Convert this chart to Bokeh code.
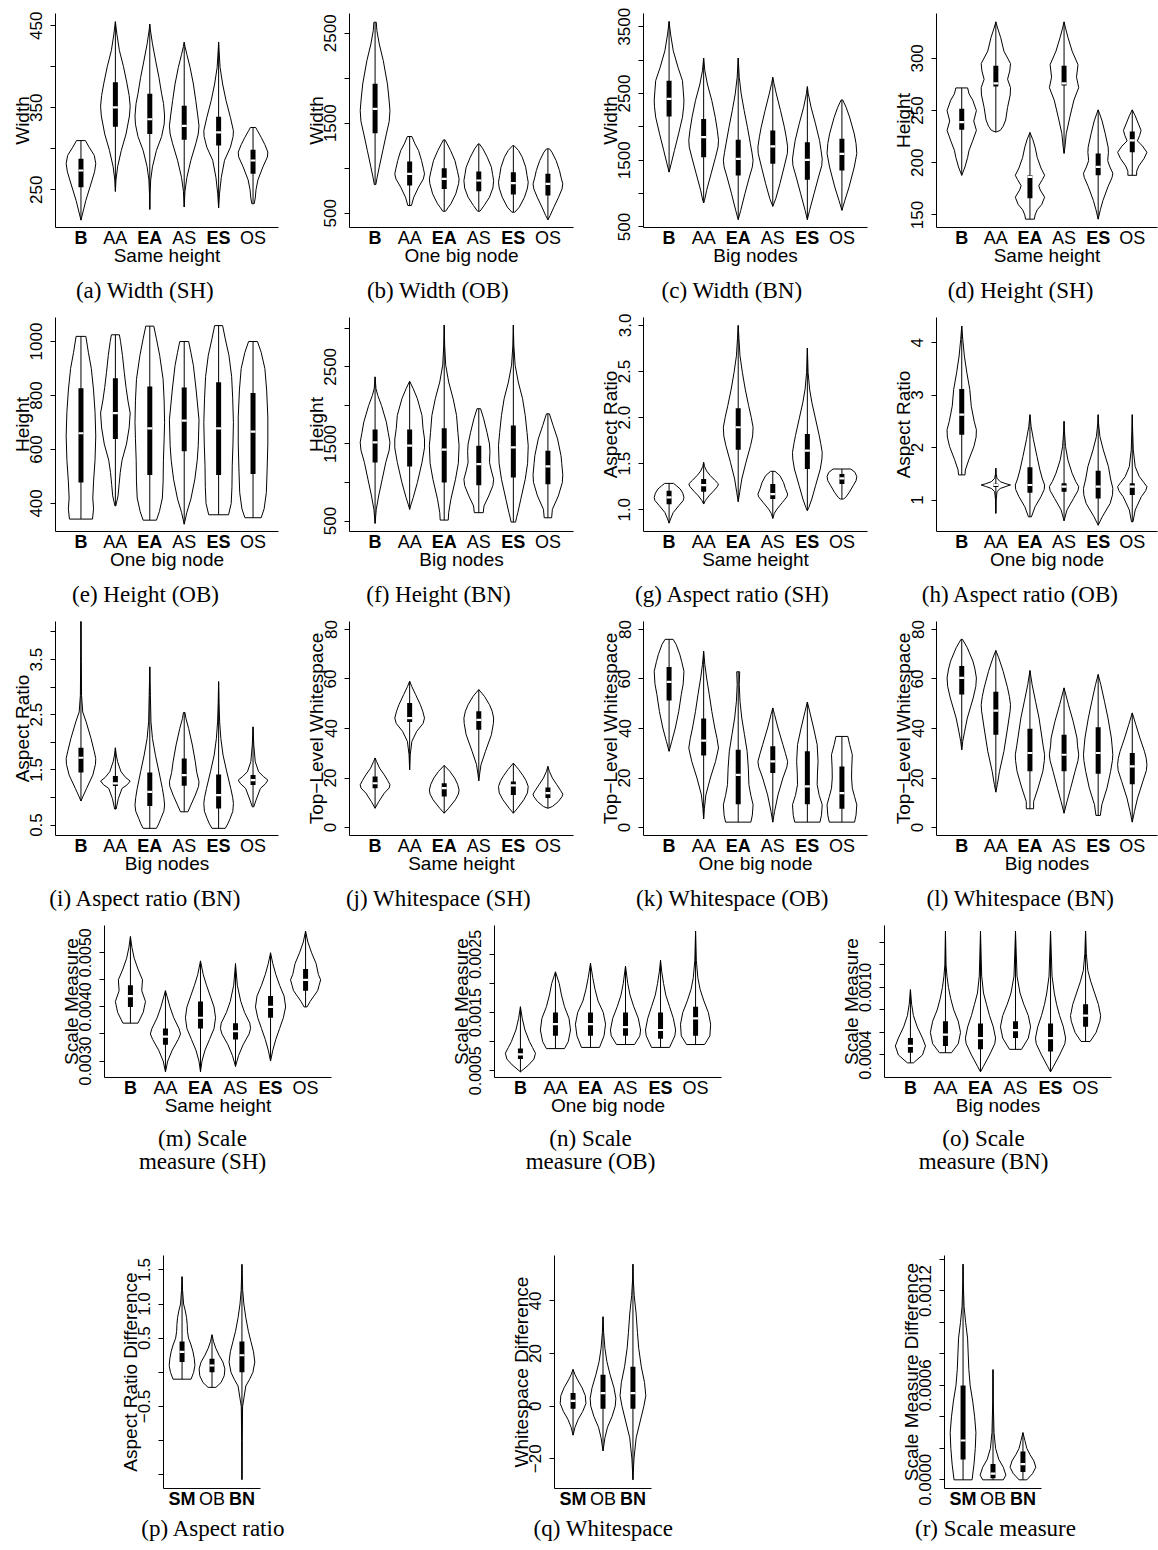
from bokeh.plotting import figure
from bokeh.layouts import column, row
from bokeh.models import Range1d, FixedTicker, Title, LinearAxis
from bokeh.embed import file_html
from bokeh.resources import INLINE

CATS6 = ["B", "AA", "EA", "AS", "ES", "OS"]
CATS3 = ["SM", "OB", "BN"]

# ---------- (a) Width (SH) ----------
A_SHAPES = [
    [(213, 0), (237, 0.33), (257, 0.67), (272, 0.92), (282, 1.0), (292, 0.9), (302, 0.55), (310, 0.3)],
    [(248, 0), (262, 0.04), (278, 0.15), (298, 0.4), (318, 0.72), (340, 0.95), (352, 1.0), (365, 0.93), (380, 0.78), (400, 0.55), (420, 0.27), (440, 0.1), (455, 0)],
    [(226, 0), (245, 0.02), (262, 0.06), (278, 0.18), (298, 0.45), (315, 0.8), (330, 0.97), (340, 1.0), (355, 0.93), (367, 0.8), (387, 0.62), (407, 0.4), (428, 0.18), (445, 0.04), (452, 0)],
    [(229, 0), (248, 0.05), (265, 0.18), (286, 0.45), (306, 0.78), (318, 0.95), (328, 1.0), (340, 0.92), (359, 0.78), (379, 0.62), (399, 0.4), (415, 0.18), (425, 0.05), (430, 0)],
    [(228, 0), (245, 0.06), (265, 0.18), (286, 0.4), (302, 0.8), (315, 0.98), (322, 1.0), (338, 0.8), (359, 0.5), (379, 0.27), (399, 0.1), (420, 0.03), (430, 0)],
    [(233, 0.08), (240, 0.15), (250, 0.2), (262, 0.33), (278, 0.67), (290, 0.97), (296, 1.0), (305, 0.8), (314, 0.55), (322, 0.3), (326, 0.18)],
]
A_Q1 = [253, 327, 318, 311, 304, 269.5]
A_MED = [273.5, 350.6, 336, 328, 320, 285.7]
A_Q3 = [288, 381, 367, 352.6, 339, 298.7]
A_YLIM = (204, 465)
A_TICKS = [250, 300, 350, 400, 450]
A_TLAB = ["250", "", "350", "", "450"]

# ---------- (b) Width (OB) ----------
B_SHAPES = [
    [(818, 0.05), (900, 0.14), (1011, 0.28), (1196, 0.52), (1381, 0.76), (1520, 0.95), (1640, 1.0), (1780, 0.93), (1937, 0.83), (2196, 0.55), (2381, 0.28), (2530, 0.12), (2622, 0.08)],
    [(585, 0.12), (678, 0.28), (789, 0.6), (880, 0.92), (937, 1.0), (1000, 0.92), (1085, 0.8), (1196, 0.6), (1270, 0.36), (1352, 0.15)],
    [(522, 0.1), (560, 0.25), (604, 0.45), (715, 0.78), (830, 0.97), (881, 1.0), (960, 0.9), (1085, 0.72), (1196, 0.43), (1270, 0.2), (1315, 0.05)],
    [(522, 0.08), (585, 0.36), (678, 0.72), (780, 0.95), (863, 1.0), (930, 0.93), (1011, 0.85), (1122, 0.57), (1215, 0.28), (1270, 0.04)],
    [(511, 0.1), (567, 0.4), (678, 0.75), (780, 0.95), (844, 1.0), (920, 0.92), (1011, 0.83), (1122, 0.6), (1196, 0.35), (1252, 0.04)],
    [(426, 0), (474, 0.15), (567, 0.4), (678, 0.72), (770, 0.95), (826, 1.0), (900, 0.88), (974, 0.78), (1085, 0.55), (1178, 0.27), (1215, 0.1)],
]
B_Q1 = [1389, 807, 770, 744, 707, 696]
B_MED = [1659, 937, 881, 863, 833, 826]
B_Q3 = [1937, 1074, 1000, 963, 955, 937]
B_YLIM = (341, 2719)
B_TICKS = [500, 1000, 1500, 2000, 2500]
B_TLAB = ["500", "", "1500", "", "2500"]

# ---------- (c) Width (BN) ----------
C_SHAPES = [
    [(1322, 0), (1446, 0.14), (1646, 0.36), (1895, 0.64), (2144, 0.9), (2300, 0.98), (2400, 1.0), (2550, 0.95), (2692, 0.9), (2892, 0.6), (3141, 0.28), (3390, 0.1), (3579, 0)],
    [(859, 0), (899, 0.06), (1048, 0.2), (1297, 0.5), (1546, 0.8), (1700, 0.97), (1800, 1.0), (1950, 0.92), (2144, 0.78), (2393, 0.55), (2642, 0.25), (2841, 0.08), (3031, 0)],
    [(610, 0), (749, 0.17), (998, 0.45), (1247, 0.75), (1400, 0.95), (1500, 1.0), (1620, 0.92), (1746, 0.82), (1995, 0.62), (2244, 0.4), (2493, 0.2), (2742, 0.07), (3031, 0)],
    [(809, 0), (924, 0.2), (1148, 0.48), (1397, 0.76), (1600, 0.98), (1700, 1.0), (1850, 0.9), (1995, 0.78), (2244, 0.52), (2493, 0.24), (2650, 0.08), (2742, 0)],
    [(610, 0), (749, 0.15), (998, 0.45), (1247, 0.75), (1420, 0.97), (1520, 1.0), (1650, 0.92), (1795, 0.82), (2044, 0.55), (2294, 0.25), (2500, 0.06), (2603, 0)],
    [(749, 0), (899, 0.2), (1098, 0.48), (1397, 0.83), (1600, 1.0), (1750, 0.95), (1895, 0.83), (2144, 0.52), (2294, 0.28), (2403, 0.05)],
]
C_Q1 = [2154, 1546, 1272, 1447, 1207, 1347]
C_MED = [2418, 1845, 1521, 1706, 1506, 1596]
C_Q3 = [2692, 2119, 1805, 1945, 1770, 1820]
C_YLIM = (492, 3698)
C_TICKS = [500, 1000, 1500, 2000, 2500, 3000, 3500]
C_TLAB = ["500", "", "1500", "", "2500", "", "3500"]

# ---------- (d) Height (SH) ----------
D_SHAPES = [
    [(188, 0), (196, 0.22), (205, 0.4), (212, 0.5), (220, 0.72), (231, 1.0), (240, 0.82), (250, 1.0), (260, 0.75), (266, 0.5), (271.7, 0.4)],
    [(229.4, 0), (231, 0.3), (235, 0.5), (241, 0.67), (253, 0.8), (265, 0.98), (272, 1.0), (280, 0.8), (288, 0.95), (295, 1.0), (307, 0.55), (320, 0.33), (329, 0.12), (335, 0)],
    [(146, 0.3), (150, 0.35), (155, 0.5), (160, 0.8), (167, 1.0), (174, 0.7), (178, 0.6), (184, 0.85), (188, 1.0), (195, 0.75), (205, 0.5), (215, 0.35), (222, 0.2), (229, 0)],
    [(209, 0), (215, 0.06), (228, 0.15), (244, 0.4), (260, 0.67), (272, 1.0), (282, 0.85), (294, 0.95), (307, 0.55), (320, 0.27), (329, 0.1), (335, 0)],
    [(146, 0), (155, 0.15), (164, 0.33), (177, 0.67), (186, 0.95), (190, 1.0), (196, 0.8), (202, 0.65), (210, 0.7), (215, 0.68), (228, 0.48), (240, 0.27), (247, 0.1), (250.7, 0)],
    [(188, 0.3), (192, 0.3), (197, 0.45), (204, 0.8), (210, 1.0), (216, 0.7), (221, 0.35), (226, 0.5), (231, 0.6), (238, 0.4), (245, 0.2), (250.7, 0)],
]
D_Q1 = [231.7, 273, 166, 274, 188, 210]
D_MED = [239, 276, 186.5, 276, 196, 221.5]
D_Q3 = [251.7, 293, 188, 293, 208.8, 230]
D_YLIM = (138, 343)
D_TICKS = [150, 200, 250, 300]
D_TLAB = ["150", "200", "250", "300"]

# ---------- (e) Height (OB) ----------
E_SHAPES = [
    [(342, 0.78), (380, 0.85), (420, 0.8), (480, 0.85), (560, 0.95), (650, 1.0), (740, 0.95), (820, 0.85), (900, 0.7), (960, 0.5), (1019, 0.33)],
    [(391, 0.03), (428, 0.18), (470, 0.25), (515, 0.33), (560, 0.45), (620, 0.75), (680, 0.93), (735, 1.0), (780, 0.85), (830, 0.72), (886, 0.6), (948, 0.48), (1000, 0.35), (1025, 0.27)],
    [(338, 0.45), (370, 0.65), (420, 0.85), (480, 0.9), (560, 0.92), (640, 0.97), (700, 1.0), (780, 0.97), (860, 0.9), (948, 0.67), (1010, 0.45), (1057, 0.27)],
    [(323, 0), (367, 0.18), (416, 0.45), (490, 0.72), (560, 0.88), (614, 0.95), (710, 1.0), (824, 0.8), (911, 0.62), (960, 0.45), (1000, 0.3)],
    [(358, 0.67), (400, 0.85), (460, 0.9), (540, 0.92), (620, 0.97), (700, 1.0), (790, 0.95), (870, 0.88), (948, 0.7), (1010, 0.45), (1059, 0.27)],
    [(347, 0.55), (380, 0.75), (440, 0.9), (520, 0.95), (620, 1.0), (720, 1.0), (820, 0.92), (900, 0.8), (960, 0.55), (1000, 0.3)],
]
E_Q1 = [478, 639, 505, 593, 505, 509]
E_MED = [660, 735, 678, 707, 678, 666]
E_Q3 = [827, 864, 833, 830, 849, 809]
E_YLIM = (296, 1089)
E_TICKS = [400, 600, 800, 1000]
E_TLAB = ["400", "600", "800", "1000"]

# ---------- (f) Height (BN) ----------
F_SHAPES = [
    [(470, 0), (652, 0.08), (826, 0.24), (1043, 0.48), (1261, 0.72), (1420, 0.95), (1522, 1.0), (1650, 0.88), (1783, 0.76), (2000, 0.43), (2130, 0.18), (2217, 0.06), (2370, 0)],
    [(652, 0), (720, 0.1), (804, 0.24), (1000, 0.52), (1261, 0.83), (1450, 1.0), (1565, 1.0), (1700, 0.9), (1870, 0.83), (2087, 0.52), (2217, 0.24), (2313, 0)],
    [(513, 0.27), (609, 0.3), (783, 0.45), (1043, 0.76), (1250, 0.95), (1478, 1.0), (1650, 0.92), (1870, 0.83), (2087, 0.6), (2304, 0.3), (2522, 0.1), (2783, 0.03), (3043, 0)],
    [(609, 0.3), (696, 0.35), (826, 0.67), (960, 0.95), (1043, 1.0), (1150, 0.85), (1261, 0.72), (1400, 0.75), (1500, 0.72), (1652, 0.55), (1826, 0.33), (1957, 0.12)],
    [(487, 0.15), (550, 0.22), (609, 0.3), (783, 0.5), (1043, 0.8), (1250, 0.96), (1478, 1.0), (1650, 0.92), (1870, 0.8), (2087, 0.62), (2304, 0.33), (2522, 0.12), (2783, 0.03), (3043, 0)],
    [(543, 0.25), (652, 0.3), (826, 0.7), (1000, 0.97), (1100, 1.0), (1250, 0.93), (1348, 0.88), (1565, 0.65), (1739, 0.35), (1891, 0.1)],
]
F_Q1 = [1261, 1209, 1000, 965, 1065, 978]
F_MED = [1522, 1478, 1426, 1239, 1457, 1209]
F_Q3 = [1687, 1687, 1704, 1478, 1739, 1413]
F_YLIM = (365, 3140)
F_TICKS = [500, 1000, 1500, 2000, 2500, 3000]
F_TLAB = ["500", "", "1500", "", "2500", ""]

# ---------- (g) Aspect ratio (SH) ----------
G_SHAPES = [
    [(0.855, 0), (0.9, 0.1), (0.97, 0.28), (1.043, 0.65), (1.1, 0.95), (1.134, 1.0), (1.18, 0.92), (1.225, 0.75), (1.26, 0.5), (1.286, 0.3)],
    [(1.062, 0), (1.1, 0.12), (1.15, 0.35), (1.2, 0.65), (1.25, 0.92), (1.28, 1.0), (1.32, 0.75), (1.37, 0.45), (1.42, 0.2), (1.47, 0.06), (1.514, 0)],
    [(1.087, 0), (1.19, 0.1), (1.333, 0.24), (1.514, 0.52), (1.696, 0.83), (1.8, 0.97), (1.895, 1.0), (2.0, 0.88), (2.13, 0.7), (2.31, 0.47), (2.49, 0.28), (2.67, 0.12), (2.855, 0.05), (3.0, 0)],
    [(0.906, 0), (0.96, 0.1), (1.007, 0.28), (1.08, 0.65), (1.14, 0.95), (1.17, 1.0), (1.23, 0.85), (1.297, 0.72), (1.37, 0.48), (1.417, 0.15)],
    [(0.99, 0), (1.025, 0.1), (1.116, 0.3), (1.26, 0.55), (1.442, 0.87), (1.55, 0.98), (1.623, 1.0), (1.72, 0.9), (1.804, 0.8), (1.986, 0.55), (2.167, 0.3), (2.31, 0.15), (2.49, 0.05), (2.754, 0)],
    [(1.116, 0.1), (1.134, 0.25), (1.19, 0.5), (1.26, 0.75), (1.315, 0.95), (1.36, 1.0), (1.406, 0.88), (1.442, 0.6)],
]
G_Q1 = [1.06, 1.196, 1.652, 1.116, 1.442, 1.279]
G_MED = [1.134, 1.268, 1.895, 1.17, 1.641, 1.34]
G_Q3 = [1.207, 1.333, 2.10, 1.279, 1.822, 1.388]
G_YLIM = (0.764, 3.086)
G_TICKS = [1.0, 1.5, 2.0, 2.5, 3.0]
G_TLAB = ["1.0", "1.5", "2.0", "2.5", "3.0"]

# ---------- (h) Aspect ratio (OB) ----------
H_SHAPES = [
    [(1.479, 0.22), (1.574, 0.25), (1.766, 0.48), (2.02, 0.83), (2.2, 0.98), (2.34, 1.0), (2.5, 0.85), (2.787, 0.65), (3.106, 0.55), (3.425, 0.35), (3.744, 0.18), (4.063, 0.07), (4.318, 0)],
    [(0.745, 0), (1.0, 0.02), (1.16, 0.08), (1.22, 0.3), (1.26, 0.7), (1.287, 1.0), (1.31, 0.7), (1.35, 0.3), (1.415, 0.08), (1.5, 0.02), (1.606, 0)],
    [(0.68, 0.1), (0.872, 0.35), (1.064, 0.75), (1.2, 0.97), (1.287, 1.0), (1.4, 0.85), (1.574, 0.68), (1.83, 0.48), (2.149, 0.24), (2.4, 0.08), (2.627, 0)],
    [(0.604, 0), (0.81, 0.2), (1.032, 0.65), (1.18, 0.95), (1.255, 1.0), (1.35, 0.8), (1.51, 0.55), (1.766, 0.26), (2.02, 0.1), (2.3, 0.03), (2.5, 0)],
    [(0.52, 0), (0.68, 0.28), (0.936, 0.82), (1.1, 0.98), (1.223, 1.0), (1.4, 0.85), (1.638, 0.7), (1.957, 0.35), (2.21, 0.12), (2.45, 0.03), (2.627, 0)],
    [(0.585, 0.05), (0.81, 0.2), (1.064, 0.62), (1.18, 0.92), (1.255, 1.0), (1.33, 0.8), (1.447, 0.48), (1.638, 0.2), (1.957, 0.07), (2.3, 0.03), (2.627, 0)],
]
H_Q1 = [2.244, 1.25, 1.14, 1.16, 1.03, 1.096]
H_MED = [2.627, 1.287, 1.287, 1.255, 1.255, 1.255]
H_Q3 = [3.119, 1.31, 1.625, 1.32, 1.56, 1.32]
H_YLIM = (0.40, 4.48)
H_TICKS = [1, 2, 3, 4]
H_TLAB = ["1", "2", "3", "4"]

# ---------- (i) Aspect ratio (BN) ----------
I_SHAPES = [
    [(0.935, 0), (1.01, 0.12), (1.164, 0.38), (1.405, 0.8), (1.6, 0.98), (1.707, 1.0), (1.85, 0.88), (2.07, 0.68), (2.37, 0.35), (2.55, 0.12), (2.85, 0.04), (3.46, 0.02), (4.2, 0)],
    [(0.79, 0.05), (0.98, 0.2), (1.164, 0.45), (1.23, 0.8), (1.297, 1.0), (1.36, 0.7), (1.466, 0.38), (1.647, 0.15), (1.77, 0.06), (1.9, 0)],
    [(0.44, 0.45), (0.52, 0.6), (0.62, 0.75), (0.75, 0.95), (0.862, 1.0), (1.0, 0.95), (1.164, 0.85), (1.466, 0.62), (1.767, 0.38), (2.07, 0.18), (2.37, 0.08), (2.85, 0.04), (3.367, 0)],
    [(0.74, 0.25), (0.862, 0.45), (1.043, 0.75), (1.2, 0.97), (1.285, 1.0), (1.45, 0.85), (1.647, 0.75), (1.95, 0.55), (2.25, 0.3), (2.43, 0.12), (2.54, 0.05)],
    [(0.44, 0.45), (0.52, 0.62), (0.62, 0.78), (0.75, 0.96), (0.892, 1.0), (1.0, 0.95), (1.164, 0.82), (1.466, 0.55), (1.767, 0.3), (2.07, 0.15), (2.37, 0.07), (2.7, 0.03), (3.1, 0)],
    [(0.83, 0.05), (0.95, 0.2), (1.164, 0.5), (1.25, 0.85), (1.315, 1.0), (1.38, 0.7), (1.466, 0.38), (1.647, 0.15), (1.95, 0.05), (2.28, 0)],
]
I_Q1 = [1.454, 1.206, 0.844, 1.212, 0.8, 1.224]
I_MED = [1.72, 1.254, 1.1, 1.405, 1.043, 1.315]
I_Q3 = [1.9, 1.387, 1.454, 1.707, 1.417, 1.405]
I_YLIM = (0.31, 4.19)
I_TICKS = [0.5, 1.0, 1.5, 2.0, 2.5, 3.0, 3.5, 4.0]
I_TLAB = ["0.5", "", "1.5", "", "2.5", "", "3.5", ""]

# ---------- (j) Whitespace (SH) ----------
J_SHAPES = [
    [(7.8, 0), (10.5, 0.25), (13.9, 0.62), (16, 0.95), (17.3, 1.0), (19, 0.85), (21.3, 0.62), (24, 0.3), (26.7, 0.1), (28.1, 0)],
    [(23.3, 0), (29.4, 0.04), (34.8, 0.15), (38.9, 0.48), (42, 0.9), (44.2, 1.0), (47, 0.88), (49.6, 0.72), (53.7, 0.4), (57, 0.14), (59.1, 0)],
    [(5.8, 0), (7.8, 0.3), (11.2, 0.75), (13.5, 0.95), (15.2, 1.0), (17.5, 0.9), (20, 0.7), (22.7, 0.38), (25.1, 0)],
    [(18.9, 0), (21.3, 0.05), (25.4, 0.15), (30.8, 0.45), (37.5, 0.85), (42, 0.98), (44.2, 1.0), (47, 0.9), (49.6, 0.72), (53, 0.38), (55.7, 0)],
    [(5.8, 0), (7.8, 0.28), (11.2, 0.7), (14, 0.95), (16.6, 1.0), (19, 0.85), (21, 0.65), (23.5, 0.35), (26, 0)],
    [(7.8, 0), (8.5, 0.3), (10.5, 0.7), (12.5, 0.95), (13.5, 1.0), (15, 0.85), (17.3, 0.6), (20, 0.3), (22.7, 0.1), (24.7, 0)],
]
J_Q1 = [15.9, 42.6, 12.5, 39.5, 13.2, 11.9]
J_MED = [17.9, 44.2, 15.9, 43.5, 17, 13.9]
J_Q3 = [20.6, 50.3, 17.9, 47, 18.6, 16.2]

# ---------- (k) Whitespace (OB) ----------
K_SHAPES = [
    [(30.8, 0), (34.8, 0.18), (40.2, 0.42), (46.9, 0.65), (53.7, 0.82), (58, 0.95), (63.1, 1.0), (67, 0.85), (69.9, 0.72), (73.9, 0.48), (76, 0.27)],
    [(3.5, 0), (7.8, 0.05), (13.2, 0.15), (20, 0.45), (26.7, 0.8), (32.1, 1.0), (36, 0.9), (40.2, 0.75), (46.9, 0.55), (53.7, 0.38), (60.4, 0.2), (65.8, 0.08), (71.2, 0)],
    [(2.2, 0.85), (5, 0.95), (9.2, 1.0), (13, 0.85), (17.3, 0.72), (24, 0.68), (30.8, 0.6), (37.5, 0.42), (44.2, 0.24), (51, 0.12), (57.7, 0.07), (62.9, 0.1)],
    [(2.2, 0), (6.5, 0.12), (13.2, 0.35), (20, 0.68), (24.5, 0.95), (26.7, 1.0), (30, 0.85), (33.5, 0.68), (40.2, 0.35), (45.6, 0.12), (48.3, 0)],
    [(2.2, 0.85), (5, 0.95), (9.2, 1.0), (13, 0.8), (17.3, 0.66), (22, 0.68), (26.7, 0.72), (33.5, 0.66), (40.2, 0.42), (47, 0.15), (50.7, 0)],
    [(2.2, 0.85), (5, 0.95), (9.2, 1.0), (12.5, 0.85), (15.9, 0.7), (20, 0.65), (24, 0.66), (29.4, 0.7), (33.5, 0.52), (36.8, 0.4)],
]
K_Q1 = [51.3, 29.1, 9.4, 22, 9.4, 7.6]
K_MED = [58.8, 35.1, 21.3, 26.7, 16.6, 13.9]
K_Q3 = [64.8, 44, 31.4, 32.8, 30.8, 24.7]

# ---------- (l) Whitespace (BN) ----------
L_SHAPES = [
    [(31.4, 0), (34.8, 0.07), (38.9, 0.2), (44.2, 0.38), (52.3, 0.78), (57, 0.96), (60.4, 1.0), (64, 0.9), (67.2, 0.76), (72.6, 0.38), (76, 0.05)],
    [(14.3, 0), (17.3, 0.1), (22.7, 0.25), (30.8, 0.55), (40.2, 0.8), (47, 0.97), (49.6, 1.0), (53, 0.92), (56.4, 0.8), (63.1, 0.5), (68.5, 0.2), (71.5, 0)],
    [(7.6, 0.25), (10.5, 0.25), (15.9, 0.55), (22.7, 0.88), (27, 0.98), (29.4, 1.0), (33, 0.9), (36.2, 0.82), (44.2, 0.62), (51, 0.38), (57.7, 0.15), (63.4, 0)],
    [(5.8, 0), (10.5, 0.2), (15.9, 0.45), (22.7, 0.75), (27, 0.95), (29.4, 1.0), (33, 0.92), (36.2, 0.88), (42.9, 0.62), (49.6, 0.3), (56.4, 0)],
    [(4.9, 0.15), (9.2, 0.25), (15.9, 0.6), (22.7, 0.85), (27, 0.97), (29.4, 1.0), (33, 0.95), (36.2, 0.9), (44.2, 0.67), (51, 0.43), (57.7, 0.18), (61.8, 0)],
    [(2.2, 0), (6.5, 0.15), (11.9, 0.36), (18.6, 0.72), (23, 0.96), (25.4, 1.0), (28, 0.95), (30.8, 0.83), (36.2, 0.52), (41.6, 0.24), (46.3, 0)],
]
L_Q1 = [53.7, 37.5, 22.7, 22.7, 21.7, 17.5]
L_MED = [60.4, 47.2, 30.1, 29.4, 30.1, 24.7]
L_Q3 = [65.2, 54.8, 39.9, 37.5, 40.5, 30.1]
WS_YLIM = (-3.2, 83.2)
WS_TICKS = [0, 20, 40, 60, 80]
WS_TLAB = ["0", "20", "40", "60", "80"]

# ---------- (m) Scale measure (SH) ----------
M_SHAPES = [
    [(0.0037, 0.5), (0.0039, 0.85), (0.0041, 1.0), (0.0043, 0.75), (0.0045, 0.8), (0.0047, 0.5), (0.0049, 0.25), (0.0051, 0.1), (0.0053, 0)],
    [(0.0028, 0), (0.0030, 0.15), (0.0032, 0.45), (0.0034, 0.85), (0.0035, 1.0), (0.0036, 0.9), (0.0038, 0.55), (0.0040, 0.3), (0.0042, 0.1), (0.0043, 0)],
    [(0.0028, 0), (0.0030, 0.1), (0.0032, 0.3), (0.0034, 0.6), (0.0036, 0.9), (0.0038, 1.0), (0.0040, 0.9), (0.0042, 0.65), (0.0044, 0.4), (0.0046, 0.18), (0.00485, 0)],
    [(0.0029, 0), (0.0031, 0.2), (0.0033, 0.5), (0.0035, 0.9), (0.0036, 1.0), (0.0037, 0.95), (0.0039, 0.6), (0.0041, 0.35), (0.0044, 0.12), (0.0048, 0)],
    [(0.0030, 0), (0.0032, 0.15), (0.0034, 0.35), (0.0036, 0.6), (0.0038, 0.85), (0.0040, 1.0), (0.0042, 0.9), (0.0044, 0.6), (0.0046, 0.35), (0.0048, 0.15), (0.0050, 0)],
    [(0.0040, 0.1), (0.0041, 0.3), (0.0042, 0.55), (0.0043, 0.8), (0.0044, 0.9), (0.0045, 1.0), (0.0046, 0.85), (0.0048, 0.7), (0.0050, 0.4), (0.0052, 0.15), (0.0054, 0)],
]
M_Q1 = [0.0040, 0.0033, 0.0036, 0.0034, 0.0038, 0.0043]
M_MED = [0.0042, 0.00345, 0.0038, 0.00355, 0.0040, 0.0045]
M_Q3 = [0.0044, 0.0036, 0.0041, 0.0037, 0.0042, 0.0047]
M_YLIM = (0.002696, 0.005504)
M_TICKS = [0.003, 0.0035, 0.004, 0.0045, 0.005]
M_TLAB = ["0.0030", "", "0.0040", "", "0.0050"]

# ---------- (n) Scale measure (OB) ----------
N_SHAPES = [
    [(0.00048, 0), (0.0006, 0.55), (0.0007, 0.9), (0.0008, 1.0), (0.0009, 0.8), (0.0010, 0.6), (0.0012, 0.3), (0.0014, 0.12), (0.0016, 0)],
    [(0.00088, 0.6), (0.0010, 0.85), (0.0012, 1.0), (0.0014, 0.9), (0.0016, 0.6), (0.0018, 0.4), (0.0020, 0.25), (0.0022, 0)],
    [(0.0009, 0.6), (0.0011, 0.9), (0.0013, 1.0), (0.0015, 0.85), (0.0017, 0.5), (0.0019, 0.3), (0.0021, 0.15), (0.00235, 0)],
    [(0.00095, 0.6), (0.0011, 0.95), (0.0012, 1.0), (0.0014, 0.85), (0.0016, 0.55), (0.0018, 0.3), (0.0020, 0.15), (0.0023, 0)],
    [(0.0009, 0.6), (0.0011, 0.95), (0.0012, 1.0), (0.0014, 0.85), (0.0016, 0.6), (0.0018, 0.35), (0.0020, 0.2), (0.0022, 0.08), (0.0024, 0)],
    [(0.00095, 0.6), (0.0011, 0.95), (0.0013, 1.0), (0.0015, 0.85), (0.0017, 0.55), (0.0019, 0.3), (0.0021, 0.15), (0.0024, 0.05), (0.0029, 0)],
]
N_Q1 = [0.0007, 0.0011, 0.0011, 0.0011, 0.00105, 0.0011]
N_MED = [0.00078, 0.0013, 0.0013, 0.00125, 0.0012, 0.0014]
N_Q3 = [0.00088, 0.0015, 0.0015, 0.0015, 0.0015, 0.0016]
N_YLIM = (0.000383, 0.002997)
N_TICKS = [0.0005, 0.001, 0.0015, 0.002, 0.0025]
N_TLAB = ["0.0005", "", "0.0015", "", "0.0025"]

# ---------- (o) Scale measure (BN) ----------
O_SHAPES = [
    [(0.00033, 0.2), (0.0004, 0.8), (0.00048, 1.0), (0.00055, 0.8), (0.00065, 0.45), (0.00075, 0.2), (0.00085, 0.08), (0.00098, 0)],
    [(0.00042, 0.4), (0.0005, 0.85), (0.0006, 1.0), (0.0007, 0.85), (0.0008, 0.55), (0.0009, 0.35), (0.0010, 0.2), (0.0011, 0.1), (0.0012, 0.04), (0.0015, 0)],
    [(0.00025, 0), (0.0003, 0.2), (0.0004, 0.6), (0.0005, 0.95), (0.00055, 1.0), (0.00065, 0.85), (0.00075, 0.6), (0.00085, 0.4), (0.00095, 0.2), (0.0011, 0.08), (0.0015, 0)],
    [(0.00045, 0.4), (0.00055, 0.85), (0.00065, 1.0), (0.00075, 0.85), (0.00085, 0.55), (0.00095, 0.3), (0.0011, 0.1), (0.0015, 0)],
    [(0.00025, 0), (0.0003, 0.2), (0.0004, 0.6), (0.0005, 0.95), (0.00055, 1.0), (0.00065, 0.85), (0.00075, 0.6), (0.00085, 0.4), (0.00095, 0.25), (0.0011, 0.1), (0.0015, 0)],
    [(0.00052, 0.3), (0.0006, 0.7), (0.0007, 0.95), (0.00075, 1.0), (0.00085, 0.85), (0.00095, 0.6), (0.00105, 0.35), (0.00115, 0.15), (0.0013, 0.05), (0.0015, 0)],
]
O_Q1 = [0.00042, 0.00048, 0.00045, 0.00055, 0.00043, 0.00065]
O_MED = [0.00048, 0.00058, 0.00055, 0.00062, 0.00055, 0.00075]
O_Q3 = [0.00055, 0.0007, 0.00068, 0.0007, 0.00068, 0.00085]
O_YLIM = (0.0002, 0.00155)
O_TICKS = [0.0004, 0.0006, 0.0008, 0.001, 0.0012, 0.0014]
O_TLAB = ["0.0004", "", "", "0.0010", "", ""]

# ---------- (p) Aspect ratio difference ----------
P_SHAPES = [
    [(-0.1, 0.7), (0.0, 0.9), (0.1, 1.0), (0.2, 0.95), (0.3, 0.85), (0.4, 0.7), (0.5, 0.5), (0.6, 0.42), (0.7, 0.4), (0.8, 0.35), (0.9, 0.25), (1.0, 0.12), (1.2, 0.04), (1.4, 0)],
    [(-0.22, 0.3), (-0.15, 0.7), (-0.05, 0.95), (0.05, 1.0), (0.15, 0.85), (0.25, 0.55), (0.35, 0.3), (0.45, 0.12), (0.55, 0)],
    [(-1.57, 0), (-1.0, 0.02), (-0.5, 0.05), (-0.2, 0.3), (-0.1, 0.6), (0.0, 0.85), (0.15, 1.0), (0.3, 0.9), (0.45, 0.7), (0.6, 0.5), (0.8, 0.3), (1.0, 0.15), (1.2, 0.06), (1.58, 0)],
]
P_Q1 = [0.15, 0.0, 0.0]
P_MED = [0.3, 0.1, 0.25]
P_Q3 = [0.45, 0.2, 0.45]
P_YLIM = (-1.70, 1.71)
P_TICKS = [-1.5, -1.0, -0.5, 0.0, 0.5, 1.0, 1.5]
P_TLAB = ["", "", "\u22120.5", "", "0.5", "1.0", "1.5"]

# ---------- (q) Whitespace difference ----------
Q_SHAPES = [
    [(-11, 0), (-8, 0.15), (-5, 0.4), (-2, 0.75), (1, 1.0), (4, 0.95), (7, 0.7), (10, 0.35), (12, 0.15), (14, 0)],
    [(-17, 0), (-12, 0.15), (-8, 0.35), (-4, 0.7), (0, 0.95), (3, 1.0), (7, 0.85), (12, 0.55), (17, 0.3), (22, 0.15), (28, 0.05), (34, 0)],
    [(-28, 0), (-20, 0.08), (-12, 0.25), (-6, 0.55), (0, 0.85), (4, 1.0), (9, 0.9), (15, 0.65), (22, 0.45), (28, 0.35), (35, 0.25), (42, 0.1), (48, 0.03), (54, 0)],
]
Q_Q1 = [-1, -1, -1]
Q_MED = [2, 5, 5]
Q_Q3 = [5, 12, 15]
Q_YLIM = (-31.3, 57.3)
Q_TICKS = [-20, 0, 20, 40]
Q_TLAB = ["\u221220", "0", "20", "40"]

# ---------- (r) Scale measure difference ----------
R_SHAPES = [
    [(0.0, 0.7), (0.0001, 0.85), (0.0002, 0.95), (0.0003, 1.0), (0.0004, 0.9), (0.0005, 0.75), (0.0006, 0.55), (0.0007, 0.45), (0.0008, 0.4), (0.0009, 0.35), (0.001, 0.2), (0.0011, 0.08), (0.00125, 0.02), (0.00137, 0)],
    [(0.0, 0.8), (0.00003, 1.0), (0.00008, 0.8), (0.00013, 0.45), (0.0002, 0.2), (0.0003, 0.08), (0.0005, 0.02), (0.0007, 0)],
    [(0.0, 0.3), (0.00004, 0.75), (0.00008, 1.0), (0.00012, 0.85), (0.00016, 0.55), (0.0002, 0.3), (0.00025, 0.15), (0.0003, 0)],
]
R_Q1 = [0.00013, 0.00001, 0.00005]
R_MED = [0.00025, 0.00004, 0.0001]
R_Q3 = [0.0006, 0.0001, 0.00018]
R_YLIM = (-0.000055, 0.001425)
R_TICKS = [0.0, 0.0002, 0.0004, 0.0006, 0.0008, 0.001, 0.0012, 0.0014]
R_TLAB = ["0.0000", "", "", "0.0006", "", "", "0.0012", ""]

SANS = "Liberation Sans"
SERIF = "Liberation Serif"
HALF = 0.43  # max half-width of a violin in category units
CAP_SIZE = 23
XLAB_H = 23  # height of the category-label row, used to lay the bold row over it

# Times advance widths (per 1000 em), used to centre captions where the paper has them
TIMES_W = {" ": 250, "(": 333, ")": 333, "a": 444, "b": 500, "c": 444, "d": 500, "e": 444,
           "f": 333, "g": 500, "h": 500, "i": 278, "j": 278, "k": 500, "l": 278, "m": 778,
           "n": 500, "o": 500, "p": 500, "q": 500, "r": 333, "s": 389, "t": 278, "u": 500,
           "A": 722, "B": 667, "H": 722, "N": 722, "O": 722, "S": 556, "W": 944}


def text_w(s):
    return sum(TIMES_W.get(ch, 500) for ch in s) / 1000.0 * CAP_SIZE


def style_x(ax):
    ax.major_tick_out = 0
    ax.major_tick_in = 0
    ax.major_tick_line_color = None
    ax.minor_tick_line_color = None
    ax.major_label_text_font = SANS
    ax.major_label_text_font_size = "18px"
    ax.major_label_text_color = "black"


def panel(cats, shapes, q1s, meds, q3s, ylim, ticks, tlabels, ylabel, xtitle, captions,
          fw, fh, bl, br, bt, bb, xr, frame_left, cap_center, cap_standoffs, ytick_size):
    p = figure(frame_width=fw, frame_height=fh, min_border_left=bl, min_border_right=br,
               min_border_top=bt, min_border_bottom=bb, x_range=Range1d(*xr),
               y_range=Range1d(*ylim), output_backend="svg", toolbar_location=None, tools="")
    p.outline_line_color = None
    p.xgrid.visible = False
    p.ygrid.visible = False
    p.background_fill_color = "white"
    p.border_fill_color = "white"

    xs, ys, cx = [], [], []
    for i, knots in enumerate(shapes):
        c = i + 1
        v = [k[0] for k in knots]
        w = [k[1] * HALF for k in knots]
        xs.append([c - a for a in w] + [c + a for a in w[::-1]])
        ys.append(v + v[::-1])
        cx.append(c)
    lo = [s[0][0] for s in shapes]
    hi = [s[-1][0] for s in shapes]
    p.patches(xs, ys, fill_color="white", line_color="black", line_width=1)
    p.segment(cx, lo, cx, hi, line_color="black", line_width=1)
    p.segment(cx, q1s, cx, q3s, line_color="black", line_width=5, line_cap="butt")
    p.scatter(cx, meds, marker="dash", size=5, line_color="white", line_width=2.2)

    # first category row: the normal-weight labels and the axis line
    xa = p.xaxis[0]
    xa.ticker = FixedTicker(ticks=cx)
    xa.major_label_overrides = {i + 1: ("" if i % 2 == 0 else n) for i, n in enumerate(cats)}
    style_x(xa)
    xa.major_label_standoff = 0
    xa.axis_line_color = "black"

    # second axis, lifted onto the same row: the darker (bold) labels and the axis title
    xb = LinearAxis(ticker=FixedTicker(ticks=cx),
                    major_label_overrides={i + 1: (n if i % 2 == 0 else "") for i, n in enumerate(cats)})
    style_x(xb)
    xb.major_label_text_font_style = "bold"
    xb.major_label_standoff = -XLAB_H
    xb.axis_line_color = None
    if xtitle:
        xb.axis_label = xtitle
        xb.axis_label_standoff = -6
        xb.axis_label_text_font = SANS
        xb.axis_label_text_font_size = "19px"
        xb.axis_label_text_font_style = "normal"
        xb.axis_label_text_color = "black"
    p.add_layout(xb, "below")

    ya = p.yaxis[0]
    ya.ticker = FixedTicker(ticks=ticks)
    ya.major_label_overrides = dict(zip(ticks, tlabels))
    ya.major_label_orientation = "vertical"
    ya.major_tick_out = 5
    ya.major_tick_in = 0
    ya.minor_tick_line_color = None
    ya.major_label_standoff = 8
    ya.major_label_text_font = SANS
    ya.major_label_text_font_size = ytick_size
    ya.major_label_text_color = "black"
    ya.axis_line_color = "black"
    ya.axis_label = ylabel
    ya.axis_label_standoff = -5
    ya.axis_label_text_font = SANS
    ya.axis_label_text_font_size = "19px"
    ya.axis_label_text_font_style = "normal"
    ya.axis_label_text_color = "black"

    for cap, st in zip(captions, cap_standoffs):
        off = cap_center - frame_left - text_w(cap) / 2.0
        p.add_layout(Title(text=cap, align="left", offset=off, standoff=st,
                           text_font=SERIF, text_font_size="%dpx" % CAP_SIZE,
                           text_font_style="normal", text_color="black"), "below")
    return p


X6 = (0.26, 6.74)
X3 = (0.38, 3.62)

# rows 1-3: four panels
R4_FW = [223, 224, 224, 221]
R4_BL = [55, 47, 47, 47]
R4_BR = [24, 23, 22, 1]
R4_LEFT = [55, 349, 643, 936]
R4_CAP = [145, 438, 732, 1020]
R4_BT = [13, 4, 4]

# row 4: three panels, two-line captions
R5_LEFT = [104, 494, 884]
R5_BR = [59, 59, 47]
R5_CAP = [202, 590, 983]

# row 5: three narrow panels
R6_LEFT = [163, 554, 944]
R6_BL = [163, 164, 164]
R6_BR = [130, 129, 117]
R6_CAP = [213, 603, 995]


def g4(r, col):
    return dict(fw=R4_FW[col], fh=214, bl=R4_BL[col], br=R4_BR[col], bt=R4_BT[r], bb=86, xr=X6,
                frame_left=R4_LEFT[col], cap_center=R4_CAP[col], cap_standoffs=[14], ytick_size="17px")


def g5(col):
    return dict(fw=227, fh=152, bl=104, br=R5_BR[col], bt=4, bb=100, xr=X6,
                frame_left=R5_LEFT[col], cap_center=R5_CAP[col], cap_standoffs=[10, -18], ytick_size="16px")


def g6(col):
    return dict(fw=97, fh=233, bl=R6_BL[col], br=R6_BR[col], bt=78, bb=62, xr=X3,
                frame_left=R6_LEFT[col], cap_center=R6_CAP[col], cap_standoffs=[4], ytick_size="17px")


pa = panel(CATS6, A_SHAPES, A_Q1, A_MED, A_Q3, A_YLIM, A_TICKS, A_TLAB, "Width", "Same height", ["(a) Width (SH)"], **g4(0, 0))
pb = panel(CATS6, B_SHAPES, B_Q1, B_MED, B_Q3, B_YLIM, B_TICKS, B_TLAB, "Width", "One big node", ["(b) Width (OB)"], **g4(0, 1))
pc = panel(CATS6, C_SHAPES, C_Q1, C_MED, C_Q3, C_YLIM, C_TICKS, C_TLAB, "Width", "Big nodes", ["(c) Width (BN)"], **g4(0, 2))
pd = panel(CATS6, D_SHAPES, D_Q1, D_MED, D_Q3, D_YLIM, D_TICKS, D_TLAB, "Height", "Same height", ["(d) Height (SH)"], **g4(0, 3))

pe = panel(CATS6, E_SHAPES, E_Q1, E_MED, E_Q3, E_YLIM, E_TICKS, E_TLAB, "Height", "One big node", ["(e) Height (OB)"], **g4(1, 0))
pf = panel(CATS6, F_SHAPES, F_Q1, F_MED, F_Q3, F_YLIM, F_TICKS, F_TLAB, "Height", "Big nodes", ["(f) Height (BN)"], **g4(1, 1))
pg = panel(CATS6, G_SHAPES, G_Q1, G_MED, G_Q3, G_YLIM, G_TICKS, G_TLAB, "Aspect Ratio", "Same height", ["(g) Aspect ratio (SH)"], **g4(1, 2))
ph = panel(CATS6, H_SHAPES, H_Q1, H_MED, H_Q3, H_YLIM, H_TICKS, H_TLAB, "Aspect Ratio", "One big node", ["(h) Aspect ratio (OB)"], **g4(1, 3))

pi = panel(CATS6, I_SHAPES, I_Q1, I_MED, I_Q3, I_YLIM, I_TICKS, I_TLAB, "Aspect Ratio", "Big nodes", ["(i) Aspect ratio (BN)"], **g4(2, 0))
pj = panel(CATS6, J_SHAPES, J_Q1, J_MED, J_Q3, WS_YLIM, WS_TICKS, WS_TLAB, "Top\u2212Level Whitespace", "Same height", ["(j) Whitespace (SH)"], **g4(2, 1))
pk = panel(CATS6, K_SHAPES, K_Q1, K_MED, K_Q3, WS_YLIM, WS_TICKS, WS_TLAB, "Top\u2212Level Whitespace", "One big node", ["(k) Whitespace (OB)"], **g4(2, 2))
pl = panel(CATS6, L_SHAPES, L_Q1, L_MED, L_Q3, WS_YLIM, WS_TICKS, WS_TLAB, "Top\u2212Level Whitespace", "Big nodes", ["(l) Whitespace (BN)"], **g4(2, 3))

pm = panel(CATS6, M_SHAPES, M_Q1, M_MED, M_Q3, M_YLIM, M_TICKS, M_TLAB, "Scale Measure", "Same height", ["(m) Scale", "measure (SH)"], **g5(0))
pn = panel(CATS6, N_SHAPES, N_Q1, N_MED, N_Q3, N_YLIM, N_TICKS, N_TLAB, "Scale Measure", "One big node", ["(n) Scale", "measure (OB)"], **g5(1))
po = panel(CATS6, O_SHAPES, O_Q1, O_MED, O_Q3, O_YLIM, O_TICKS, O_TLAB, "Scale Measure", "Big nodes", ["(o) Scale", "measure (BN)"], **g5(2))

pp = panel(CATS3, P_SHAPES, P_Q1, P_MED, P_Q3, P_YLIM, P_TICKS, P_TLAB, "Aspect Ratio Difference", None, ["(p) Aspect ratio"], **g6(0))
pq = panel(CATS3, Q_SHAPES, Q_Q1, Q_MED, Q_Q3, Q_YLIM, Q_TICKS, Q_TLAB, "Whitespace Difference", None, ["(q) Whitespace"], **g6(1))
pr = panel(CATS3, R_SHAPES, R_Q1, R_MED, R_Q3, R_YLIM, R_TICKS, R_TLAB, "Scale Measure Difference", None, ["(r) Scale measure"], **g6(2))

layout = column(
    row(pa, pb, pc, pd),
    row(pe, pf, pg, ph),
    row(pi, pj, pk, pl),
    row(pm, pn, po),
    row(pp, pq, pr),
)

open("out.html", "w").write(file_html(layout, INLINE))
